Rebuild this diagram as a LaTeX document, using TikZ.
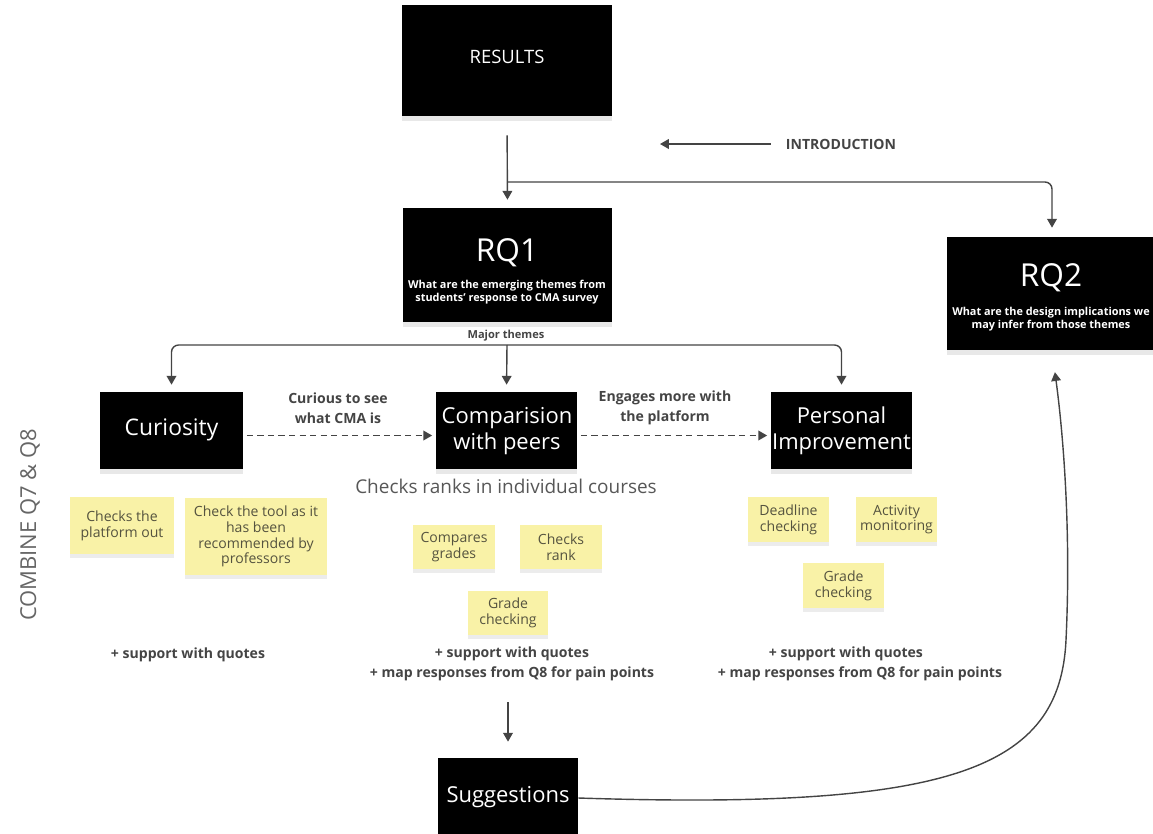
\documentclass[tikz,border=0pt]{standalone}
\usepackage{fontspec}
\setmainfont{Open Sans}
\usetikzlibrary{positioning, calc, arrows.meta, shadows}
\definecolor{ink}{HTML}{444444}
\definecolor{note}{HTML}{F9F2A7}
\definecolor{notetext}{HTML}{55533F}
\tikzstyle{Arrow} = [
line width=0.8pt, draw=ink,
-{Triangle[length=5pt,width=5.5pt]}]
\tikzstyle{Dashed} = [Arrow, dash pattern=on 3.5pt off 2.5pt]
\tikzstyle{Box} = [
fill=black, inner sep=0pt,
drop shadow={opacity=0.18, shadow xshift=0pt, shadow yshift=-3pt}]
\tikzstyle{Sticky} = [
fill=note, text=notetext, align=center, inner sep=0pt,
font=\fontsize{8}{9}\selectfont,
drop shadow={opacity=0.15, shadow xshift=0pt, shadow yshift=-2.5pt}]
\tikzstyle{Title} = [text=white, align=center, font=\fontsize{12.5}{14.5}\selectfont]
\tikzstyle{Sub} = [text=white, align=center, font=\bfseries\fontsize{6.2}{7.4}\selectfont]
\tikzstyle{Label} = [text=ink, align=center, font=\bfseries\fontsize{8}{11.5}\selectfont]

\begin{document}
\begin{tikzpicture}[x=0.02cm, y=-0.02cm]
    \useasboundingbox (0,0) rectangle (1153,833);

    % boxes
    \node [Box, minimum width=4.2cm, minimum height=2.22cm] (1) at (507,60.5) {};
    \node [Title, font=\fontsize{10.5}{12}\selectfont] (1t) at (507,57) {RESULTS};
    \node [Box, minimum width=4.18cm, minimum height=2.28cm] (2) at (507.5,265) {};
    \node [Title, font=\fontsize{18}{20}\selectfont] (2t) at (507,253) {RQ1};
    \node [Sub] (2s) at (507,292) {What are the emerging themes from\\students' response to CMA survey};
    \node [Box, minimum width=4.2cm, minimum height=2.26cm] (3) at (1052,293.5) {};
    \node [Title, font=\fontsize{18}{20}\selectfont] (3t) at (1051,278) {RQ2};
    \node [Sub] (3s) at (1051,319) {What are the design implications we\\may infer from those themes};
    \node [Box, minimum width=2.86cm, minimum height=1.54cm] (4) at (171.5,430.5) {};
    \node [Title, font=\fontsize{13}{15}\selectfont] (4t) at (171.5,430) {Curiosity};
    \node [Box, minimum width=2.82cm, minimum height=1.54cm] (5) at (506.5,430.5) {};
    \node [Title] (5t) at (507,431) {Comparision\\with peers};
    \node [Box, minimum width=2.82cm, minimum height=1.54cm] (6) at (841.5,430.5) {};
    \node [Title] (6t) at (841.5,431) {Personal\\Improvement};
    \node [Box, minimum width=2.8cm, minimum height=1.6cm] (7) at (508,798) {};
    \node [Title] (7t) at (508,797) {Suggestions};

    % notes
    \node [Sticky, minimum width=2.1cm, minimum height=1.14cm] (8) at (122,525.5) {Checks the\\platform out};
    \node [Sticky, minimum width=2.84cm, minimum height=1.54cm] (9) at (256,536.5) {Check the tool as it\\has been\\recommended by\\professors};
    \node [Sticky, minimum width=1.64cm, minimum height=0.88cm] (10) at (454,547) {Compares\\grades};
    \node [Sticky, minimum width=1.64cm, minimum height=0.88cm] (11) at (561,547) {Checks\\rank};
    \node [Sticky, minimum width=1.6cm, minimum height=0.88cm] (12) at (508,613) {Grade\\checking};
    \node [Sticky, minimum width=1.62cm, minimum height=0.9cm] (13) at (788.5,519.5) {Deadline\\checking};
    \node [Sticky, minimum width=1.62cm, minimum height=0.9cm] (14) at (896.5,519.5) {Activity\\monitoring};
    \node [Sticky, minimum width=1.62cm, minimum height=0.9cm] (15) at (843.5,585.5) {Grade\\checking};

    % texts
    \node [Label] (16) at (841,144) {INTRODUCTION};
    \node [Label, font=\bfseries\fontsize{6.3}{8}\selectfont] (17) at (506,336) {Major themes};
    \node [Label] (18) at (338,408) {Curious to see\\what CMA is};
    \node [Label] (19) at (665,408) {Engages more with\\the platform};
    \node [text=ink!90, font=\fontsize{10.8}{13}\selectfont] (20) at (506,486) {Checks ranks in individual courses};
    \node [Label] (21) at (188,655) {+ support with quotes};
    \node [Label] (22) at (512,664) {+ support with quotes\\+ map responses from Q8 for pain points};
    \node [Label] (23) at (860,664) {\hspace*{-2em}+ support with quotes\\+ map responses from Q8 for pain points};
    \node [rotate=90, text=black!60, font=\fontsize{12.5}{14}\selectfont] (24) at (30,525) {COMBINE Q7 \& Q8};

    \coordinate (a) at (507,182);
    \coordinate (b) at (507,345);
    \coordinate (c) at (660,144);

    \draw[Arrow, shorten <=0.38cm, shorten >=0.16cm] (1.south) -- (2.north);
    \draw[Arrow, rounded corners=4pt, shorten >=0.18cm] (a) -| (3.north);
    \draw[Arrow, shorten <=5pt] (16.west) -- (c);
    \draw[Arrow, rounded corners=4pt, shorten >=0.14cm] (b) -| (4.north);
    \draw[Arrow, rounded corners=4pt, shorten >=0.14cm] (b) -| (6.north);
    \draw[Arrow, shorten >=0.14cm] (b) -- (5.north);
    \draw[Dashed, shorten <=2pt, shorten >=2pt] ($(4.east)+(0,5)$) -- ($(5.west)+(0,5)$);
    \draw[Dashed, shorten <=2pt, shorten >=2pt] ($(5.east)+(0,5)$) -- ($(6.west)+(0,5)$);
    \draw[Arrow, shorten <=0.3cm, shorten >=0.32cm] (7.north |- 22.south) -- (7.north);
    \draw[Arrow, shorten >=0.44cm] (7.east) .. controls (950,810) and (1060,770) .. (1066,640)
        .. controls (1071,536) and (1064,440) .. (3.south);
\end{tikzpicture}
\end{document}
